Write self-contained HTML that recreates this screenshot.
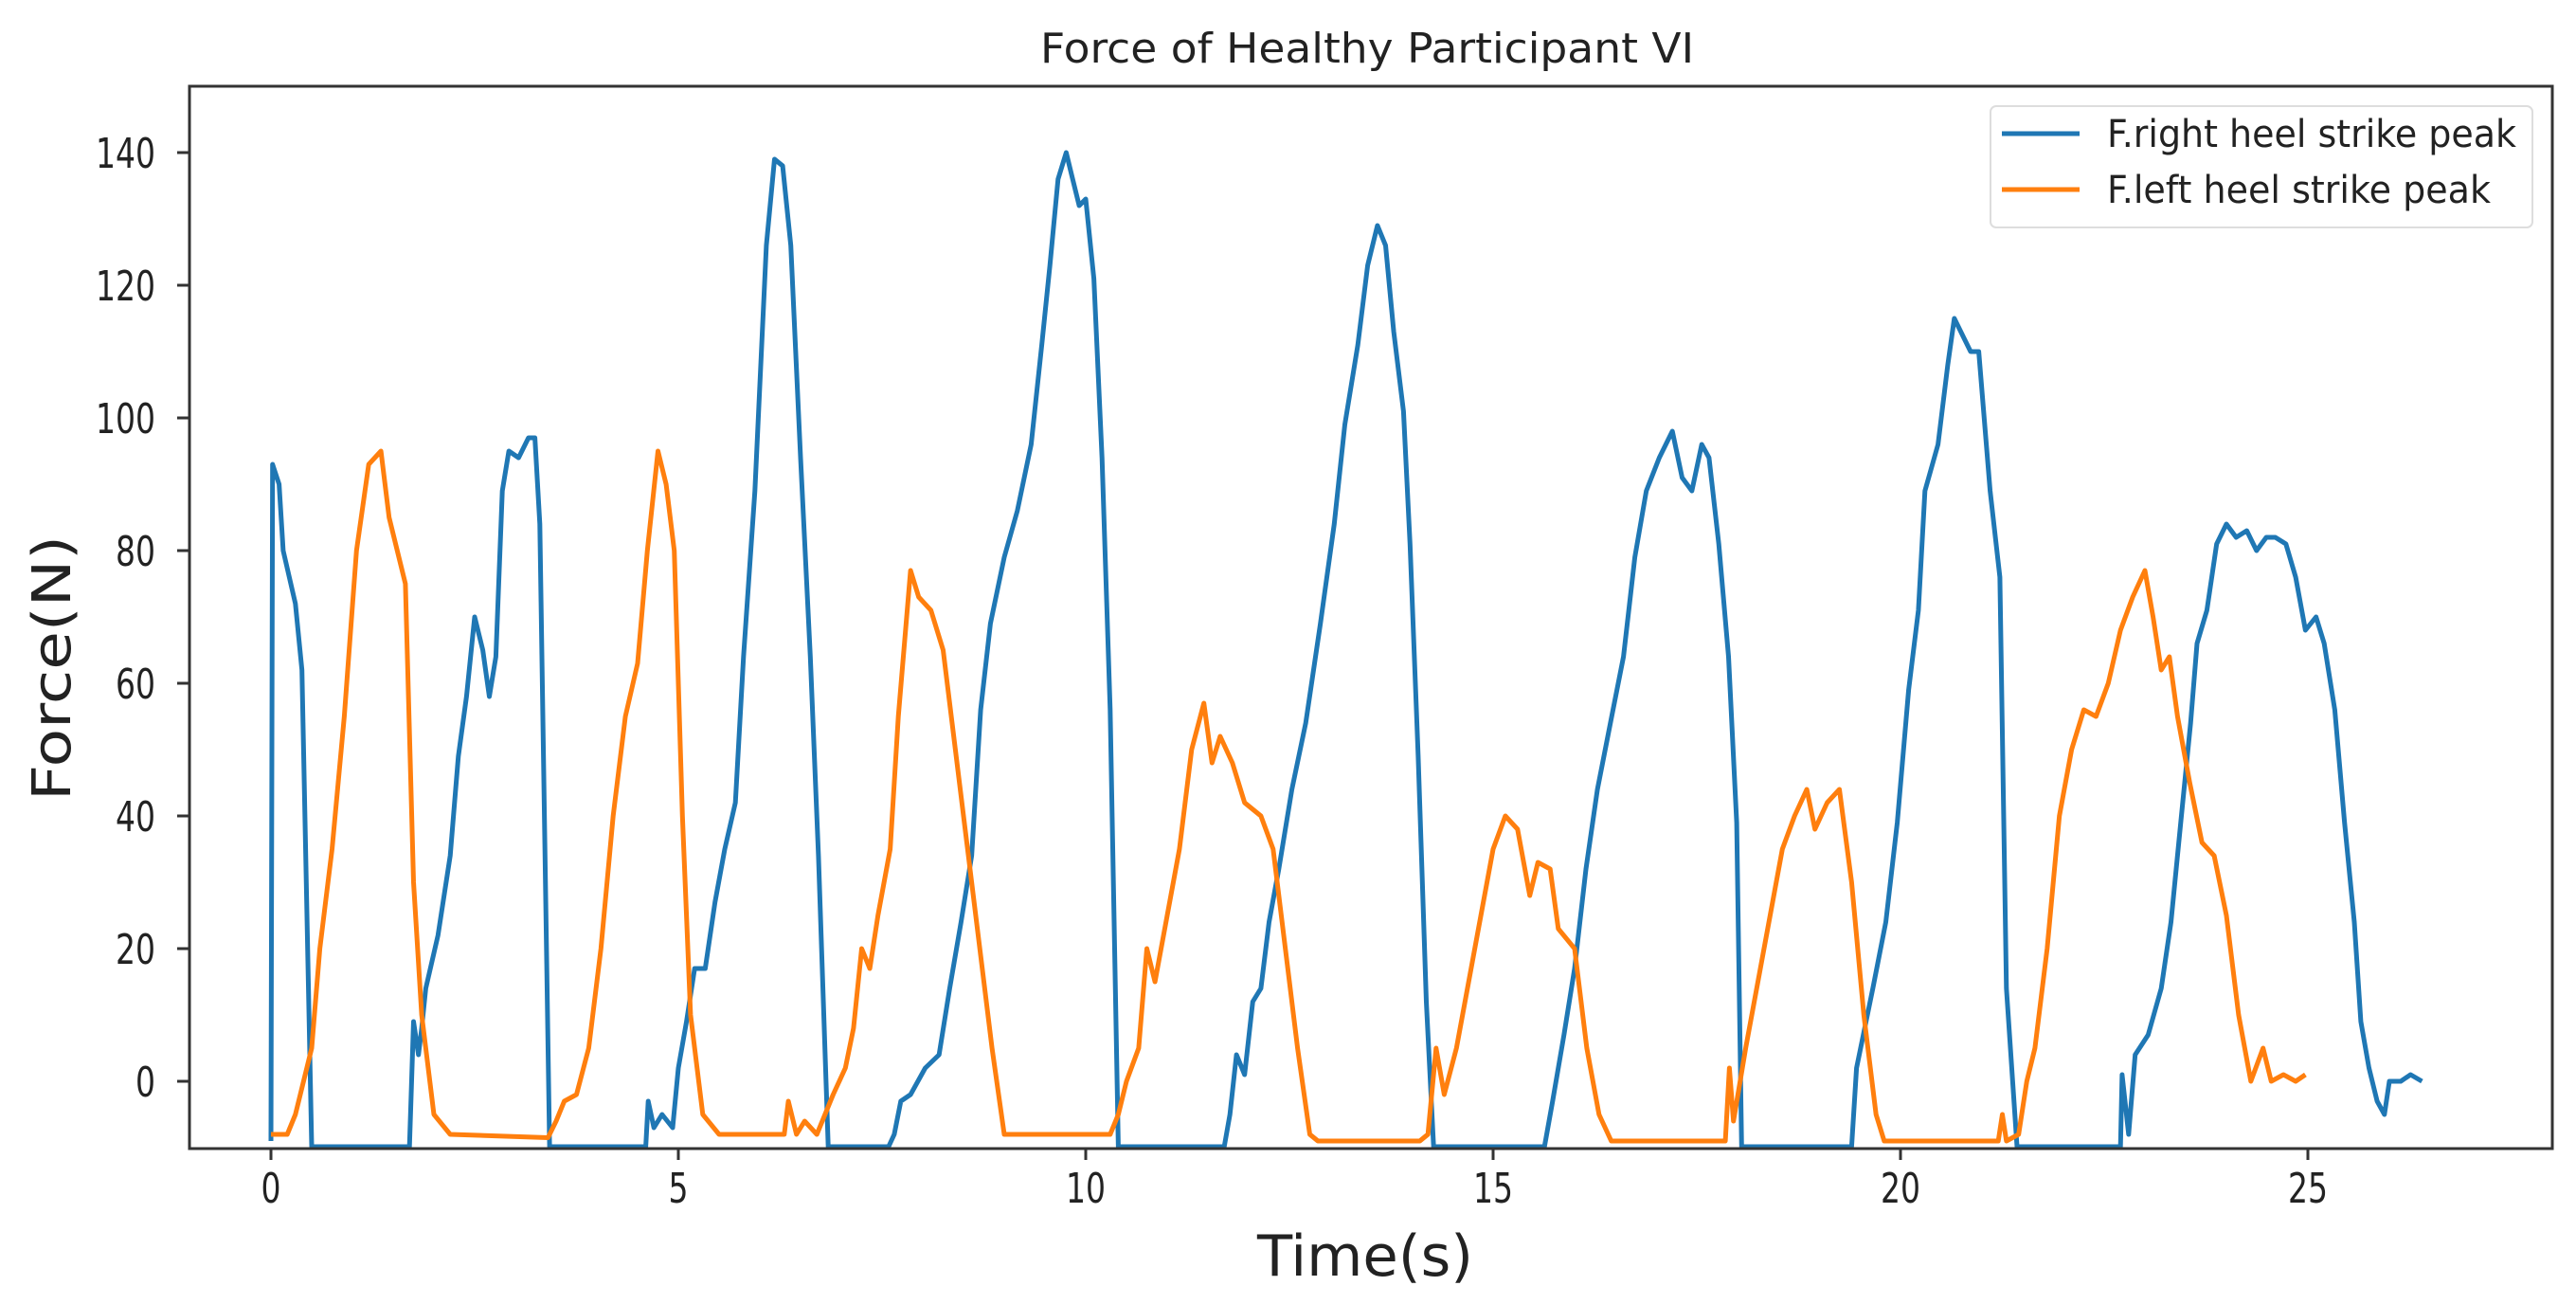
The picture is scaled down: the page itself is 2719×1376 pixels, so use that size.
<!DOCTYPE html>
<html><head><meta charset="utf-8"><style>
html,body{margin:0;padding:0;background:#fff}
svg{display:block}
text{font-family:"DejaVu Sans","Liberation Sans",sans-serif;fill:#222}
</style></head><body>
<svg id="chart" width="2719" height="1376" viewBox="0 0 2719 1376" xmlns="http://www.w3.org/2000/svg">
<text x="1443" y="66" font-size="44" text-anchor="middle" textLength="690" lengthAdjust="spacingAndGlyphs">Force of Healthy Participant VI</text>
<g id="plot"></g>
<rect x="200" y="91" width="2494" height="1121" fill="none" stroke="#333" stroke-width="3"/>
<g id="xticks"></g>
<g id="yticks"></g>
<text x="1441" y="1346" font-size="60" text-anchor="middle" textLength="228" lengthAdjust="spacingAndGlyphs">Time(s)</text>
<text transform="translate(74,705) rotate(-90)" font-size="56" text-anchor="middle" textLength="280" lengthAdjust="spacingAndGlyphs">Force(N)</text>
<g>
<rect x="2101" y="112" width="572" height="128" rx="6" fill="#fff" stroke="#ddd" stroke-width="2"/>
<line x1="2113" y1="141" x2="2195" y2="141" stroke="#1f77b4" stroke-width="5"/>
<text x="2224" y="155" font-size="40" textLength="432" lengthAdjust="spacingAndGlyphs">F.right heel strike peak</text>
<line x1="2113" y1="200" x2="2195" y2="200" stroke="#ff7f0e" stroke-width="5"/>
<text x="2224" y="214" font-size="40" textLength="405" lengthAdjust="spacingAndGlyphs">F.left heel strike peak</text>
</g>
</svg>
<script>
const xTicks = [0, 5, 10, 15, 20, 25];
const yTicks = [0, 20, 40, 60, 80, 100, 120, 140];
const rightT = [0,0.02,0.1,0.15,0.3,0.38,0.5,1.7,1.75,1.81,1.85,1.9,2.05,2.2,2.3,2.4,2.5,2.6,2.68,2.76,2.84,2.92,3.04,3.16,3.24,3.3,3.42,4.6,4.63,4.7,4.8,4.93,5.0,5.1,5.2,5.33,5.45,5.57,5.7,5.8,5.94,6.08,6.18,6.28,6.38,6.5,6.62,6.72,6.84,7.58,7.65,7.73,7.85,8.03,8.2,8.33,8.47,8.6,8.71,8.83,9.0,9.16,9.33,9.46,9.56,9.66,9.76,9.84,9.92,10.0,10.1,10.2,10.3,10.4,11.7,11.77,11.85,11.95,12.05,12.15,12.25,12.37,12.53,12.7,12.88,13.05,13.18,13.34,13.46,13.58,13.68,13.78,13.9,13.98,14.08,14.18,14.27,15.53,15.63,15.73,15.87,16.0,16.14,16.28,16.44,16.6,16.74,16.88,17.04,17.2,17.32,17.44,17.56,17.65,17.77,17.89,17.99,18.05,19.4,19.46,19.66,19.82,19.96,20.1,20.22,20.3,20.46,20.58,20.66,20.78,20.86,20.96,21.1,21.22,21.3,21.43,22.7,22.72,22.8,22.88,23.04,23.2,23.32,23.44,23.56,23.64,23.76,23.88,24.0,24.12,24.25,24.37,24.49,24.6,24.73,24.85,24.97,25.1,25.2,25.33,25.45,25.57,25.65,25.75,25.85,25.94,26.0,26.14,26.26,26.4];
const rightF = [-9,93,90,80,72,62,-10,-10,9,4,8,14,22,34,49,58,70,65,58,64,89,95,94,97,97,84,-10,-10,-3,-7,-5,-7,2,9,17,17,27,35,42,64,89,126,139,138,126,94,64,34,-10,-10,-8,-3,-2,2,4,14,24,34,56,69,79,86,96,111,123,136,140,136,132,133,121,94,56,-10,-10,-5,4,1,12,14,24,32,44,54,69,84,99,111,123,129,126,113,101,81,49,12,-10,-10,-10,-3,7,17,32,44,54,64,79,89,94,98,91,89,96,94,81,64,39,-10,-10,2,14,24,39,59,71,89,96,108,115,112,110,110,89,76,14,-10,-10,1,-8,4,7,14,24,39,54,66,71,81,84,82,83,80,82,82,81,76,68,70,66,56,39,24,9,2,-3,-5,0,0,1,0];
const leftT = [0,0.2,0.3,0.4,0.5,0.6,0.75,0.9,1.05,1.2,1.35,1.45,1.55,1.65,1.75,1.85,2.0,2.2,3.4,3.5,3.6,3.75,3.9,4.05,4.2,4.35,4.5,4.62,4.75,4.85,4.95,5.05,5.15,5.3,5.5,6.3,6.35,6.45,6.55,6.7,6.9,7.05,7.15,7.25,7.35,7.45,7.6,7.7,7.85,7.95,8.1,8.25,8.4,8.55,8.7,8.85,9.0,10.3,10.4,10.5,10.65,10.75,10.85,11.0,11.15,11.3,11.45,11.55,11.65,11.8,11.95,12.15,12.3,12.45,12.6,12.75,12.85,14.1,14.2,14.3,14.4,14.55,14.7,14.85,15.0,15.15,15.3,15.45,15.55,15.7,15.8,16.0,16.15,16.3,16.45,17.85,17.9,17.95,18.1,18.25,18.4,18.55,18.7,18.85,18.95,19.1,19.25,19.4,19.55,19.7,19.8,21.2,21.25,21.3,21.45,21.55,21.65,21.8,21.95,22.1,22.25,22.4,22.55,22.7,22.85,23.0,23.1,23.2,23.3,23.4,23.55,23.7,23.85,24.0,24.15,24.3,24.45,24.55,24.7,24.85,24.97];
const leftF = [-8,-8,-5,0,5,20,35,55,80,93,95,85,80,75,30,10,-5,-8,-8.5,-6,-3,-2,5,20,40,55,63,80,95,90,80,40,10,-5,-8,-8,-3,-8,-6,-8,-2,2,8,20,17,25,35,55,77,73,71,65,50,35,20,5,-8,-8,-5,0,5,20,15,25,35,50,57,48,52,48,42,40,35,20,5,-8,-9,-9,-8,5,-2,5,15,25,35,40,38,28,33,32,23,20,5,-5,-9,-9,2,-6,5,15,25,35,40,44,38,42,44,30,10,-5,-9,-9,-5,-9,-8,0,5,20,40,50,56,55,60,68,73,77,70,62,64,55,45,36,34,25,10,0,5,0,1,0,1];

const X0 = 286, XS = 86.0, Y0 = 1141, YS = 7.0;
function xScale(v){ return X0 + v * XS; }
function yScale(v){ return Y0 - v * YS; }
const NS = 'http://www.w3.org/2000/svg';
const plot = document.getElementById('plot');
function drawLine(ts, fs, color, name){
  let d = '';
  for (let i = 0; i < ts.length; i++) d += (i ? 'L' : 'M') + xScale(ts[i]).toFixed(1) + ',' + Math.min(1210, yScale(fs[i])).toFixed(1);
  const p = document.createElementNS(NS, 'path');
  p.setAttribute('d', d);
  p.setAttribute('fill', 'none');
  p.setAttribute('stroke', color);
  p.setAttribute('stroke-width', '5');
  p.setAttribute('stroke-linejoin', 'round');
  
  
  plot.appendChild(p);
}
drawLine(rightT, rightF, '#1f77b4', 'right-heel-line');
drawLine(leftT, leftF, '#ff7f0e', 'left-heel-line');

const xg = document.getElementById('xticks');
xTicks.forEach(v => {
  const x = xScale(v);
  const l = document.createElementNS(NS, 'line');
  l.setAttribute('x1', x); l.setAttribute('x2', x); l.setAttribute('y1', 1212); l.setAttribute('y2', 1224);
  l.setAttribute('stroke', '#333'); l.setAttribute('stroke-width', '3');
  
  
  xg.appendChild(l);
  const t = document.createElementNS(NS, 'text');
  t.setAttribute('x', x); t.setAttribute('y', 1269);
  t.setAttribute('font-size', '44'); t.setAttribute('text-anchor', 'middle');
  t.setAttribute('textLength', String(v).length * 21); t.setAttribute('lengthAdjust', 'spacingAndGlyphs');
  t.textContent = v;
  
  
  xg.appendChild(t);
});
const yg = document.getElementById('yticks');
yTicks.forEach(v => {
  const y = yScale(v);
  const l = document.createElementNS(NS, 'line');
  l.setAttribute('x1', 187); l.setAttribute('x2', 200); l.setAttribute('y1', y); l.setAttribute('y2', y);
  l.setAttribute('stroke', '#333'); l.setAttribute('stroke-width', '3');
  
  
  yg.appendChild(l);
  const t = document.createElementNS(NS, 'text');
  t.setAttribute('x', 164); t.setAttribute('y', y + 16);
  t.setAttribute('font-size', '44'); t.setAttribute('text-anchor', 'end');
  t.setAttribute('textLength', String(v).length * 21); t.setAttribute('lengthAdjust', 'spacingAndGlyphs');
  t.textContent = v;
  
  
  yg.appendChild(t);
});
</script>
</body></html>
